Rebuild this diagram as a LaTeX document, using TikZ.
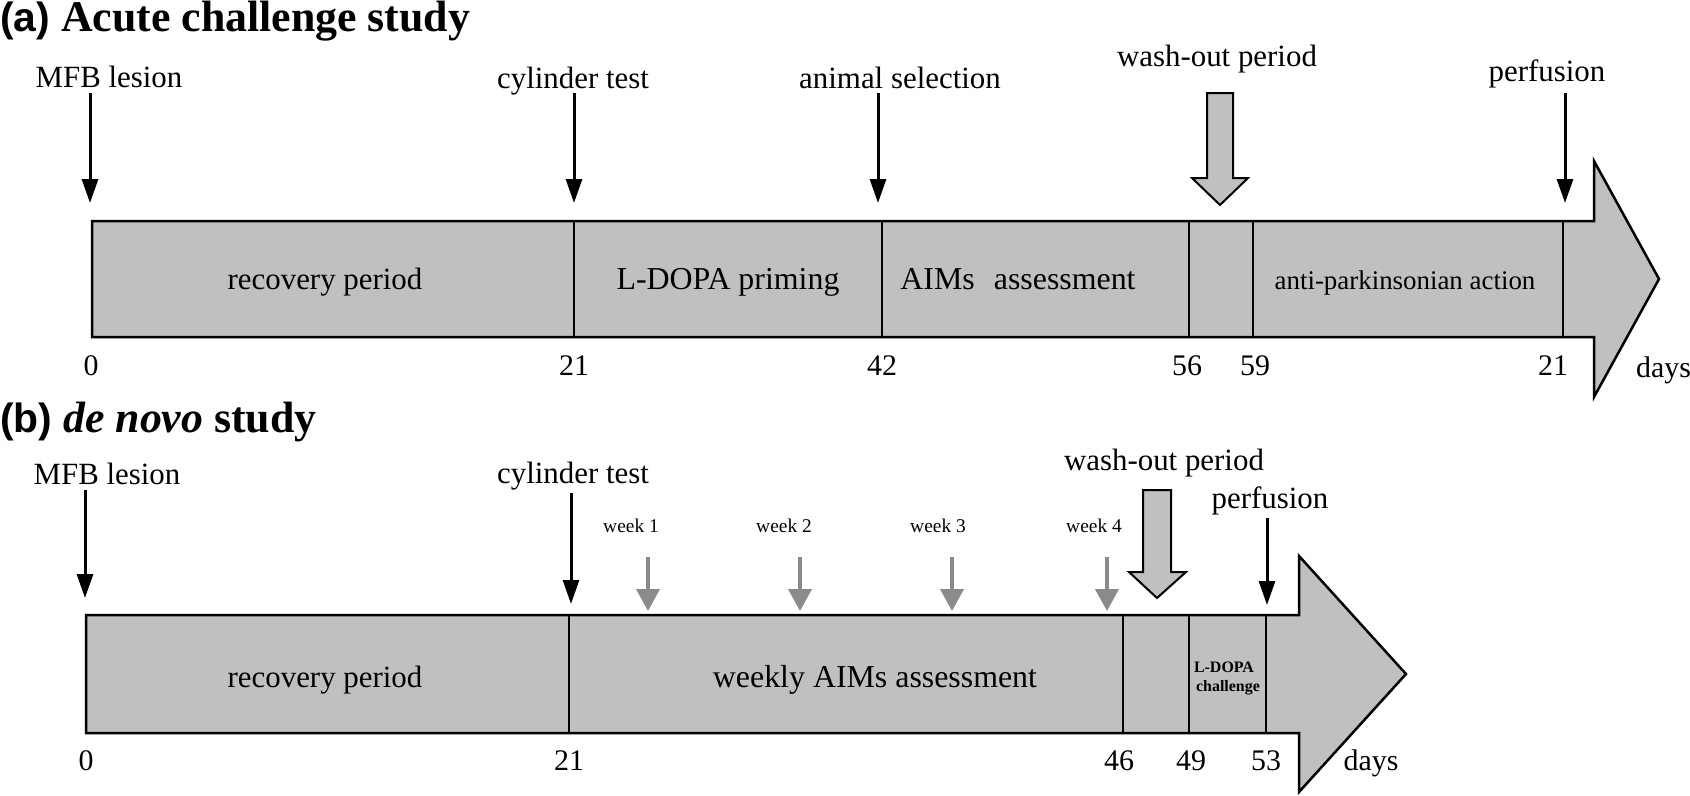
\documentclass[tikz,border=0pt]{standalone}
\usepackage{fontspec}
\setmainfont{Liberation Serif}
\newfontfamily\lsans{Liberation Sans}
\usetikzlibrary{arrows.meta}
\definecolor{barfill}{RGB}{192,192,192}
\definecolor{weekgray}{RGB}{138,138,138}
\tikzset{
 lab/.style={inner sep=0pt, anchor=base, font=\fontsize{31}{36}\selectfont},
 inlab/.style={inner sep=0pt, anchor=base, font=\fontsize{31}{36}\selectfont},
 num/.style={inner sep=0pt, anchor=base, font=\fontsize{30}{36}\selectfont},
 ttl/.style={inner sep=0pt, anchor=base west, font=\fontsize{44}{50}\selectfont\bfseries},
 wk/.style={inner sep=0pt, anchor=base, font=\fontsize{19.5}{22}\selectfont},
 sml/.style={inner sep=0pt, anchor=base, font=\fontsize{16}{18}\selectfont\bfseries},
 evarrow/.style={line width=3bp, -{Triangle[width=16bp,length=24bp]}},
 wkarrow/.style={draw=weekgray, fill=weekgray, line width=4bp, -{Triangle[width=23bp,length=22bp]}},
 barshape/.style={draw=black, line width=2.5bp, fill=barfill, line join=miter},
 divider/.style={draw=black, line width=2.5bp},
 blockarrow/.style={draw=black, line width=2bp, fill=barfill, line join=miter},
}
\begin{document}
\begin{tikzpicture}[x=1bp,y=-1bp]
\useasboundingbox (0,0) rectangle (1690,796);

% ---------------- panel (a) ----------------
\node[ttl] (ttlA) at (0,32) {{\lsans\fontsize{41}{48}\selectfont (a)} Acute challenge study};

\draw[barshape] (92,221) -- (1594,221) -- (1594,161) -- (1659,279) -- (1594,397) -- (1594,337) -- (92,337) -- cycle;
\foreach \xx in {574,882,1189,1253,1563} \draw[divider] (\xx,221) -- (\xx,337);

\node[lab] (mfbA) at (109,87) {MFB lesion};
\node[lab] (cylA) at (573,88) {cylinder test};
\node[lab] (selA) at (900,88) {animal selection};
\node[lab] (washA) at (1217,67) {wash-out period};
\node[lab] (perfA) at (1547,82) {perfusion};

\coordinate (mfbAs) at (90,93);   \coordinate (mfbAe) at (90,203);
\coordinate (cylAs) at (574,93);  \coordinate (cylAe) at (574,203);
\coordinate (selAs) at (878,93);  \coordinate (selAe) at (878,203);
\coordinate (perfAs) at (1565,93); \coordinate (perfAe) at (1565,203);
\draw[evarrow] (mfbAs) -- (mfbAe);
\draw[evarrow] (cylAs) -- (cylAe);
\draw[evarrow] (selAs) -- (selAe);
\draw[evarrow] (perfAs) -- (perfAe);

\draw[blockarrow] (1207,93) -- (1233,93) -- (1233,178) -- (1248,178) -- (1220,205) -- (1192,178) -- (1207,178) -- cycle;

\node[inlab] (recA) at (325,289) {recovery period};
\node[inlab, font=\fontsize{32}{36}\selectfont] (primA) at (728,289) {L-DOPA priming};
\node[inlab, font=\fontsize{32}{36}\selectfont] (aimsA) at (1018,289) {AIMs\hspace{0.6em}assessment};
\node[inlab, font=\fontsize{27}{32}\selectfont] (antiA) at (1405,289) {anti-parkinsonian action};

\node[num] (nA0) at (91,375) {0};
\node[num] (nA1) at (574,375) {21};
\node[num] (nA2) at (882,375) {42};
\node[num] (nA3) at (1187,375) {56};
\node[num] (nA4) at (1255,375) {59};
\node[num] (nA5) at (1553,375) {21};
\node[num, anchor=base west] (daysA) at (1636,377) {days};

% ---------------- panel (b) ----------------
\node[ttl] (ttlB) at (0,432) {{\lsans\fontsize{41}{48}\selectfont (b)} \textit{de novo} study};

\draw[barshape] (86,615) -- (1299,615) -- (1299,556) -- (1406,674) -- (1299,792) -- (1299,733) -- (86,733) -- cycle;
\foreach \xx in {569,1123,1189,1266} \draw[divider] (\xx,615) -- (\xx,733);

\node[lab] (mfbB) at (107,484) {MFB lesion};
\node[lab] (cylB) at (573,483) {cylinder test};
\node[lab] (washB) at (1164,470) {wash-out period};
\node[lab] (perfB) at (1270,508) {perfusion};

\coordinate (mfbBs) at (85,490);   \coordinate (mfbBe) at (85,598);
\coordinate (cylBs) at (571,493);  \coordinate (cylBe) at (571,604);
\coordinate (perfBs) at (1267,518); \coordinate (perfBe) at (1267,605);
\draw[evarrow] (mfbBs) -- (mfbBe);
\draw[evarrow] (cylBs) -- (cylBe);
\draw[evarrow] (perfBs) -- (perfBe);

\node[wk] (wk1) at (631,532) {week 1};
\node[wk] (wk2) at (784,532) {week 2};
\node[wk] (wk3) at (938,532) {week 3};
\node[wk] (wk4) at (1094,532) {week 4};
\coordinate (w1s) at (648,557); \coordinate (w1e) at (648,611);
\coordinate (w2s) at (800,557); \coordinate (w2e) at (800,611);
\coordinate (w3s) at (952,557); \coordinate (w3e) at (952,611);
\coordinate (w4s) at (1107,557); \coordinate (w4e) at (1107,611);
\draw[wkarrow] (w1s) -- (w1e);
\draw[wkarrow] (w2s) -- (w2e);
\draw[wkarrow] (w3s) -- (w3e);
\draw[wkarrow] (w4s) -- (w4e);

\draw[blockarrow] (1143,490) -- (1171,490) -- (1171,572) -- (1186,572) -- (1157,598) -- (1129,572) -- (1143,572) -- cycle;

\node[inlab] (recB) at (325,687) {recovery period};
\node[inlab, font=\fontsize{32}{36}\selectfont] (aimsB) at (875,687) {weekly AIMs assessment};
\node[sml] (ldB1) at (1224,672) {L-DOPA};
\node[sml] (ldB2) at (1228,691) {challenge};

\node[num] (nB0) at (86,770) {0};
\node[num] (nB1) at (569,770) {21};
\node[num] (nB2) at (1119,770) {46};
\node[num] (nB3) at (1191,770) {49};
\node[num] (nB4) at (1266,770) {53};
\node[num] (daysB) at (1371,770) {days};
\end{tikzpicture}
\end{document}
